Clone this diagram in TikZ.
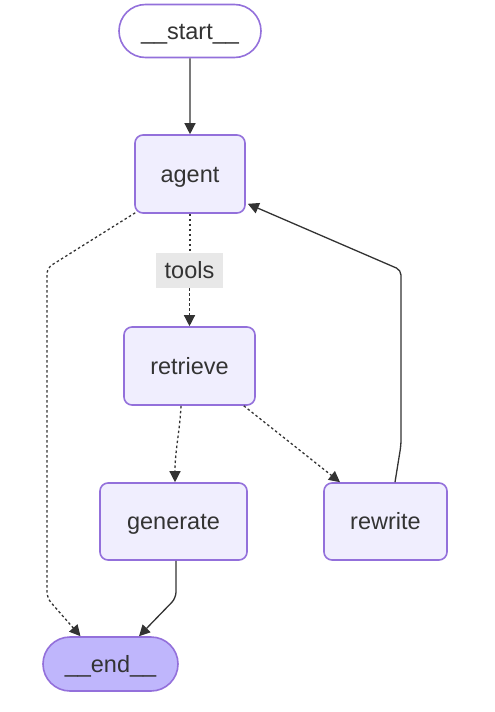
\documentclass[tikz,border=0pt]{standalone}
\usepackage{fontspec}
\setmainfont{Liberation Sans}
\usetikzlibrary{arrows.meta,shapes.misc}
\definecolor{nodefill}{HTML}{F0EEFE}
\definecolor{nodeline}{HTML}{9370DB}
\definecolor{endfill}{HTML}{BFB6FC}
\definecolor{edgecol}{HTML}{333333}
\definecolor{labelbg}{HTML}{E8E8E8}
\definecolor{txt}{HTML}{333333}
\tikzset{
  base/.style={inner sep=0pt, text=txt, font=\fontsize{23.5}{28}\selectfont, text height=16.5pt, text depth=0pt},
  stepbox/.style={base, draw=nodeline, fill=nodefill, line width=1.6pt, rounded corners=8pt},
  pill/.style={base, draw=nodeline, line width=1.6pt, rounded rectangle},
  edgelabel/.style={base, fill=labelbg, minimum width=67pt, minimum height=35pt},
  tip/.style={-{Triangle[length=11pt,width=11pt]}},
  solidedge/.style={draw=edgecol, line width=1.3pt},
  dotedge/.style={draw=edgecol, line width=1.3pt, dash pattern=on 2.5pt off 2.5pt},
}
\begin{document}
\begin{tikzpicture}[x=1pt,y=-1pt]
\useasboundingbox (0,0) rectangle (495,712);
% nodes
\node[pill, fill=white, minimum width=142pt, minimum height=53pt] (start) at (190,31) {\_\_start\_\_};
\node[stepbox, minimum width=110pt, minimum height=78pt] (agent) at (190,174) {agent};
\node[stepbox, minimum width=131pt, minimum height=78pt] (retrieve) at (189.5,366) {retrieve};
\node[stepbox, minimum width=147pt, minimum height=77pt] (generate) at (173.5,521.5) {generate};
\node[stepbox, minimum width=123pt, minimum height=77pt] (rewrite) at (385.5,521.5) {rewrite};
\node[pill, fill=endfill, minimum width=135pt, minimum height=54pt] (end) at (110.5,664) {\_\_end\_\_};
% bend points
\coordinate (aeA) at (47,268);
\coordinate (aeB) at (47,598);
\coordinate (raA) at (401,445);
\coordinate (raB) at (401,270);
\coordinate (geA) at (176,598);
% edges
\draw[solidedge, tip] (start) -- (agent);
\draw[dotedge] (agent) -- (190,253) coordinate (toolsTop);
\node[edgelabel] (tools) at (189.5,270.5) {tools};
\draw[dotedge, tip] (tools) -- (retrieve);
\draw[dotedge, tip, rounded corners=6pt] ([xshift=1pt,yshift=1pt]agent.south west) -- (aeA) -- (aeB) -- ([xshift=-30pt]end.north);
\draw[dotedge, tip] ([xshift=-8.5pt]retrieve.south) .. controls (180,430) and (175,450) .. ([xshift=1.5pt]generate.north);
\draw[dotedge, tip] ([xshift=-12pt]retrieve.south east) -- ([xshift=-45.5pt]rewrite.north);
\draw[solidedge, tip, rounded corners=5pt] ([xshift=9.5pt]rewrite.north) -- (raA) -- (raB) -- ([xshift=2pt,yshift=10pt]agent.south east);
\draw[solidedge, tip, rounded corners=6pt] ([xshift=2.5pt]generate.south) -- (geA) -- ([xshift=28.5pt]end.north);
\end{tikzpicture}
\end{document}
